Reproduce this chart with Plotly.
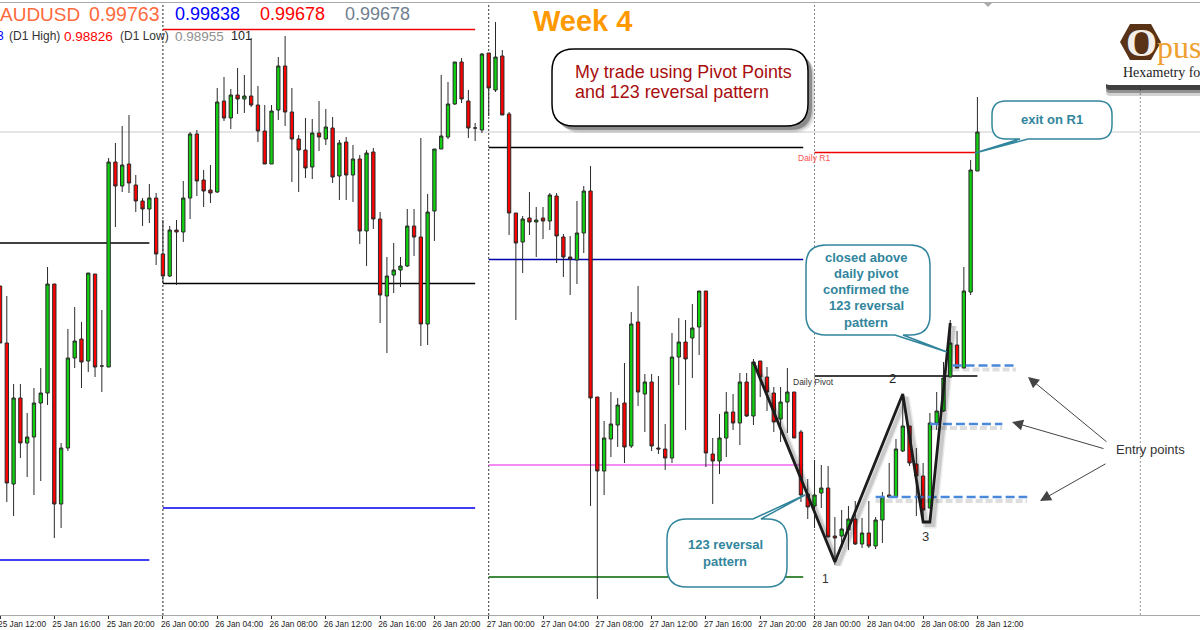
import plotly.graph_objects as go
import pandas as pd

# 30 minute bars, 25 Jan 12:00 -> 28 Jan 12:00, prices in points (1 point = 0.00001)
start_time = "2011-01-25 12:00"

opens = [
    99458, 99344, 99062, 99234, 99144, 99156, 99224, 99244, 99462, 99022, 99134, 99314,
    99352, 99308, 99482, 99298, 99296, 99706, 99658, 99702, 99660, 99628, 99612, 99634,
    99522, 99478, 99570, 99566, 99634, 99762, 99670, 99650, 99646, 99828, 99794, 99840,
    99832, 99838, 99820, 99768, 99702, 99810, 99898, 99806, 99752, 99730, 99696, 99764,
    99752, 99774, 99678, 99746, 99680, 99712, 99568, 99726, 99592, 99438, 99480, 99490,
    99498, 99578, 99556, 99382, 99608, 99732, 99756, 99822, 99906, 99828, 99774, 99770,
    99924, 99850, 99918, 99802, 99604, 99546, 99594, 99586, 99594, 99588, 99638, 99556,
    99516, 99510, 99564, 99648, 99236, 99088, 99152, 99180, 99224, 99138, 99386, 99242,
    99266, 99134, 99132, 99114, 99316, 99346, 99354, 99376, 99448, 99122, 99108, 99154,
    99206, 99184, 99266, 99198, 99308, 99276, 99244, 99192, 99226, 99246, 99166, 99042,
    99018, 99044, 99054, 98958, 98958, 98970, 98992, 98942, 98964, 98938, 98990, 99040,
    99036, 99128, 99178, 99102, 99078, 99014, 99184, 99208, 99276, 99340, 99294, 99446,
    99688,
]
highs = [
    99458, 99438, 99262, 99262, 99204, 99254, 99294, 99496, 99462, 99144, 99372, 99416,
    99386, 99484, 99482, 99410, 99714, 99744, 99778, 99800, 99680, 99634, 99662, 99644,
    99590, 99578, 99590, 99668, 99766, 99770, 99690, 99700, 99854, 99876, 99852, 99894,
    99880, 99954, 99858, 99820, 99820, 99916, 99958, 99854, 99760, 99794, 99792, 99828,
    99812, 99796, 99750, 99756, 99740, 99720, 99730, 99734, 99606, 99516, 99544, 99516,
    99612, 99612, 99754, 99642, 99732, 99880, 99866, 99906, 99914, 99850, 99784, 99924,
    99924, 99986, 99930, 99806, 99604, 99598, 99646, 99616, 99616, 99644, 99644, 99562,
    99558, 99628, 99658, 99698, 99236, 99188, 99246, 99234, 99304, 99406, 99458, 99282,
    99282, 99278, 99182, 99364, 99394, 99390, 99422, 99448, 99448, 99154, 99202, 99246,
    99242, 99284, 99284, 99312, 99308, 99296, 99256, 99256, 99294, 99246, 99170, 99072,
    99110, 99100, 99098, 98996, 99010, 99018, 99028, 98994, 99028, 98996, 99046, 99104,
    99152, 99242, 99178, 99134, 99104, 99204, 99246, 99306, 99390, 99368, 99496, 99710,
    99836,
]
lows = [
    99344, 99026, 98998, 99114, 99076, 99040, 99068, 99220, 98954, 98974, 99128, 99294,
    99254, 99286, 99276, 99246, 99296, 99576, 99646, 99644, 99606, 99578, 99584, 99500,
    99464, 99476, 99460, 99546, 99592, 99638, 99616, 99624, 99644, 99788, 99772, 99802,
    99804, 99816, 99746, 99702, 99702, 99790, 99778, 99666, 99646, 99674, 99672, 99728,
    99740, 99664, 99630, 99630, 99626, 99542, 99498, 99572, 99384, 99324, 99444, 99456,
    99496, 99518, 99338, 99340, 99548, 99732, 99752, 99820, 99824, 99754, 99748, 99764,
    99798, 99846, 99800, 99560, 99390, 99484, 99560, 99516, 99552, 99570, 99504, 99476,
    99440, 99462, 99524, 99018, 98832, 99040, 99116, 99136, 99104, 99134, 99218, 99166,
    99128, 99122, 99090, 99104, 99260, 99170, 99274, 99320, 99096, 99022, 99082, 99116,
    99170, 99140, 99196, 99180, 99236, 99208, 99166, 99146, 99164, 99154, 99026, 98992,
    98974, 99014, 98956, 98900, 98934, 98930, 98940, 98934, 98934, 98932, 98944, 99034,
    99034, 99126, 99098, 98998, 98986, 99014, 99170, 99206, 99276, 99294, 99294, 99440,
    99688,
]
closes = [
    99344, 99064, 99234, 99144, 99156, 99224, 99244, 99462, 99022, 99134, 99314, 99348,
    99306, 99484, 99296, 99298, 99706, 99658, 99700, 99664, 99628, 99612, 99634, 99522,
    99478, 99570, 99566, 99634, 99762, 99668, 99648, 99644, 99826, 99794, 99840, 99832,
    99838, 99820, 99768, 99702, 99808, 99898, 99806, 99752, 99730, 99694, 99764, 99756,
    99776, 99676, 99744, 99680, 99712, 99568, 99724, 99592, 99440, 99478, 99490, 99498,
    99578, 99556, 99382, 99606, 99732, 99758, 99822, 99906, 99832, 99774, 99774, 99922,
    99854, 99916, 99800, 99604, 99544, 99592, 99586, 99590, 99588, 99640, 99558, 99516,
    99512, 99564, 99648, 99234, 99088, 99154, 99182, 99220, 99136, 99382, 99246, 99266,
    99138, 99132, 99114, 99316, 99346, 99312, 99374, 99448, 99124, 99108, 99154, 99206,
    99184, 99266, 99198, 99306, 99276, 99246, 99186, 99226, 99246, 99154, 99040, 99016,
    99040, 99054, 98956, 98954, 98972, 98992, 98942, 98964, 98938, 98990, 99036, 99036,
    99132, 99178, 99104, 99078, 99010, 99184, 99208, 99274, 99344, 99294, 99448, 99690,
    99766,
]

# daily pivot levels: (from, to, price in points, colour)
levels = [
    ("2011-01-25 11:00", "2011-01-25 23:00", 99544, "#000000"),
    ("2011-01-25 11:00", "2011-01-25 23:00", 98910, "#0000ee"),
    ("2011-01-26 00:00", "2011-01-26 23:00", 99971, "#ee0000"),
    ("2011-01-26 00:00", "2011-01-26 23:00", 99463, "#000000"),
    ("2011-01-26 00:00", "2011-01-26 23:00", 99014, "#0000ee"),
    ("2011-01-27 00:00", "2011-01-27 23:10", 99735, "#000000"),
    ("2011-01-27 00:00", "2011-01-27 23:10", 99511, "#0000aa"),
    ("2011-01-27 00:00", "2011-01-27 23:10", 99100, "#ee66ee"),
    ("2011-01-27 00:00", "2011-01-27 23:10", 98876, "#006400"),
    ("2011-01-28 00:00", "2011-01-28 12:00", 99725, "#ee0000"),
    ("2011-01-28 00:00", "2011-01-28 12:00", 99278, "#000000"),
]
current_price = 99766

# 1-2-3 reversal zigzag
zigzag_times = ["2011-01-27 19:30", "2011-01-28 01:30", "2011-01-28 06:30",
                "2011-01-28 08:00", "2011-01-28 08:30", "2011-01-28 10:00"]
zigzag_prices = [99306, 98906, 99242, 98986, 98986, 99384]

# entry lines (from, to, price in points)
entries = [
    ("2011-01-28 04:30", "2011-01-28 15:40", 99036),
    ("2011-01-28 08:30", "2011-01-28 13:50", 99182),
    ("2011-01-28 10:10", "2011-01-28 14:50", 99299),
]

day_lines = [("2011-01-26 00:00", "#222222"), ("2011-01-27 00:00", "#333333"),
             ("2011-01-28 00:00", "#888888"), ("2011-01-29 00:00", "#999999")]

tick_times = list(pd.date_range("2011-01-25 12:00", "2011-01-28 12:00", freq="4h"))
tick_labels = [t.strftime("%d %b %H:%M") for t in tick_times]

WIDTH, HEIGHT = 1200, 630
TOP, BOTTOM = 3, 615


def pt(v):
    return v / 100000


def px(x):
    return x / WIDTH


def py(y):
    return 1 - (y - TOP) / (BOTTOM - TOP)


def box_path(x0, y0, x1, y1, r, tail=None):
    """圆角矩形路径, tail = (side, a, b, tipx, tipy)"""
    p = [f"M {px(x0 + r)} {py(y0)}"]
    if tail and tail[0] == "top":
        p += [f"L {px(tail[1])} {py(y0)}", f"L {px(tail[3])} {py(tail[4])}", f"L {px(tail[2])} {py(y0)}"]
    p += [f"L {px(x1 - r)} {py(y0)}", f"Q {px(x1)} {py(y0)} {px(x1)} {py(y0 + r)}",
          f"L {px(x1)} {py(y1 - r)}", f"Q {px(x1)} {py(y1)} {px(x1 - r)} {py(y1)}"]
    if tail and tail[0] == "bottom":
        p += [f"L {px(tail[2])} {py(y1)}", f"L {px(tail[3])} {py(tail[4])}", f"L {px(tail[1])} {py(y1)}"]
    p += [f"L {px(x0 + r)} {py(y1)}", f"Q {px(x0)} {py(y1)} {px(x0)} {py(y1 - r)}",
          f"L {px(x0)} {py(y0 + r)}", f"Q {px(x0)} {py(y0)} {px(x0 + r)} {py(y0)}", "Z"]
    return " ".join(p)


times = pd.date_range(start_time, periods=len(opens), freq="30min")

fig = go.Figure()

# 蜡烛图
fig.add_trace(go.Candlestick(
    x=times, open=[pt(v) for v in opens], high=[pt(v) for v in highs],
    low=[pt(v) for v in lows], close=[pt(v) for v in closes],
    increasing=dict(fillcolor="#10d010", line=dict(color="#2a2a2a", width=1)),
    decreasing=dict(fillcolor="#ff0000", line=dict(color="#2a2a2a", width=1)),
    whiskerwidth=0, showlegend=False,
))

# 入场线 (shadow first)
for t0, t1, price in entries:
    fig.add_trace(go.Scatter(x=[t0, t1], y=[pt(price - 8)] * 2, mode="lines",
                             line=dict(color="rgba(0,0,0,0.13)", width=4, dash="7px,3px"), showlegend=False))
    fig.add_trace(go.Scatter(x=[t0, t1], y=[pt(price)] * 2, mode="lines",
                             line=dict(color="#4a88dc", width=2.5, dash="9px,4px"), showlegend=False))

# zigzag with a soft shadow
shadow_times = [pd.Timestamp(t) + pd.Timedelta(minutes=15) for t in zigzag_times]
shadow_prices = [pt(v - 6) for v in zigzag_prices]
for w, a in [(7, 0.08), (4, 0.14)]:
    fig.add_trace(go.Scatter(x=shadow_times, y=shadow_prices, mode="lines",
                             line=dict(color=f"rgba(0,0,0,{a})", width=w), showlegend=False))
fig.add_trace(go.Scatter(x=zigzag_times, y=[pt(v) for v in zigzag_prices], mode="lines",
                         line=dict(color="#1c1c1c", width=2.8), showlegend=False))

shapes = []
# 当前价格线和日线分隔
shapes.append(dict(type="line", xref="paper", x0=0, x1=1, yref="y", y0=pt(current_price), y1=pt(current_price),
                   line=dict(color="#dddddd", width=1.5), layer="below"))
for t, color in day_lines:
    shapes.append(dict(type="line", xref="x", x0=t, x1=t, yref="paper", y0=0, y1=1,
                       line=dict(color=color, width=1, dash="2px,2px"), layer="below"))
for t0, t1, price, color in levels:
    shapes.append(dict(type="line", xref="x", x0=t0, x1=t1, yref="y", y0=pt(price), y1=pt(price),
                       line=dict(color=color, width=1.5), layer="below"))

# 文字框
for off, a in [(7, 0.08), (5.5, 0.14), (4, 0.3)]:
    shapes.append(dict(type="path", xref="paper", yref="paper",
                       path=box_path(552 + off, 49 + off, 808 + off, 126 + off, 22),
                       fillcolor=f"rgba(0,0,0,{a})", line=dict(width=0)))
shapes.append(dict(type="path", xref="paper", yref="paper", path=box_path(552, 49, 808, 126, 22),
                   fillcolor="#ffffff", line=dict(color="#000000", width=1.5)))
TEAL = "#31859c"
shapes.append(dict(type="path", xref="paper", yref="paper",
                   path=box_path(992, 101, 1112, 139, 14, ("bottom", 1020, 1028, 975, 153)),
                   fillcolor="#ffffff", line=dict(color=TEAL, width=1.5)))
shapes.append(dict(type="path", xref="paper", yref="paper",
                   path=box_path(806, 245, 930, 335, 20, ("bottom", 895, 903, 947, 352)),
                   fillcolor="#ffffff", line=dict(color=TEAL, width=1.5)))
shapes.append(dict(type="path", xref="paper", yref="paper",
                   path=box_path(667, 519, 787, 587, 20, ("top", 753, 761, 805, 495)),
                   fillcolor="#ffffff", line=dict(color=TEAL, width=1.5)))

# logo card
for bottom, a in [(96, 0.2), (93, 0.35), (90, 0.7)]:
    shapes.append(dict(type="path", xref="paper", yref="paper", path=box_path(1106, 80, 1215, bottom, 4),
                       fillcolor=f"rgba(30,30,30,{a})", line=dict(width=0)))
shapes.append(dict(type="path", xref="paper", yref="paper", path=box_path(1104, 5, 1215, 85, 6),
                   fillcolor="#ffffff", line=dict(width=0)))
hexagon = [(1120, 42), (1130, 24), (1151, 24), (1161, 42), (1151, 60), (1130, 60)]
shapes.append(dict(type="path", xref="paper", yref="paper",
                   path="M " + " L ".join(f"{px(x)} {py(y)}" for x, y in hexagon) + " Z",
                   fillcolor="#5a3216", line=dict(width=0)))
# small marker at the top of the chart
shapes.append(dict(type="path", xref="paper", yref="paper",
                   path=f"M {px(984)} {py(3)} L {px(992)} {py(3)} L {px(988)} {py(7)} Z",
                   fillcolor="#aaaaaa", line=dict(width=0)))

annotations = []


def note(x, y, text, size, color, anchor="left", bold=False, family="Liberation Sans"):
    annotations.append(dict(
        x=px(x - 2 if anchor == "left" else x), y=py(y), xref="paper", yref="paper",
        xanchor=anchor, yanchor="middle",
        text=f"<b>{text}</b>" if bold else text, showarrow=False,
        font=dict(family=family, size=size, color=color),
    ))


def arrow(tipx, tipy, tailx, taily):
    annotations.append(dict(
        x=px(tipx), y=py(tipy), xref="paper", yref="paper", text="", showarrow=True,
        ax=tailx - tipx, ay=taily - tipy, arrowhead=2, arrowsize=2.2, arrowwidth=1,
        arrowcolor="#444444", standoff=0,
    ))


# 顶部报价
note(0, 14, "AUDUSD", 19, "#ff6a3c")
note(89, 14, "0.99763", 19.5, "#ff6a3c")
note(175, 14, "0.99838", 18, "#0000ff")
note(260, 14, "0.99678", 18, "#ff0000")
note(345, 14, "0.99678", 18, "#708090")
note(-3, 36, "3", 12, "#0000ff")
note(9, 36, "(D1 High)", 12, "#333333")
note(64, 36, "0.98826", 13.5, "#ff0000")
note(120, 36, "(D1 Low)", 12, "#333333")
note(175, 36, "0.98955", 13.5, "#909090")
note(231, 36, "101", 12.5, "#222222")

note(533, 21, "Week 4", 29, "#ff9900", bold=True)
note(575, 72, "My trade using Pivot Points", 17.9, "#a80c0c")
note(575, 92, "and 123 reversal pattern", 17.9, "#a80c0c")

note(1052, 120, "exit on R1", 13, TEAL, "center", True)
for y, line in zip([257, 273, 289, 305, 322],
                   ["closed above", "daily pivot", "confirmed the", "123 reversal", "pattern"]):
    note(866, y, line, 13, TEAL, "center", True)
note(725, 544, "123 reversal", 13, TEAL, "center", True)
note(725, 561, "pattern", 13, TEAL, "center", True)

note(798, 158, "Daily R1", 8.5, "#ff5050")
note(793, 382, "Daily Pivot", 8.5, "#333333")
note(825, 579, "1", 12, "#333333", "center")
note(892, 378, "2", 13, "#222222", "center")
note(925, 536, "3", 13, "#333333", "center")
note(1116, 449, "Entry points", 13, "#333333")

arrow(1028, 377, 1108, 443)
arrow(1012, 422, 1105, 449)
arrow(1040, 501, 1107, 463)

# logo text
note(1141, 42, "O", 40, "#f4efe8", "center", True, "Liberation Serif")
note(1157, 47, "pus", 32, "#f0a030", family="Liberation Serif")
note(1123, 72, "Hexametry for", 14, "#222222", family="Liberation Serif")

x_left = pd.Timestamp(start_time) - pd.Timedelta(minutes=0.1)
x_right = x_left + pd.Timedelta(hours=WIDTH / 54.3 * 4)

fig.update_layout(
    width=WIDTH, height=HEIGHT,
    margin=dict(l=0, r=0, t=TOP, b=HEIGHT - BOTTOM, pad=0),
    paper_bgcolor="#ffffff", plot_bgcolor="#ffffff",
    showlegend=False, shapes=shapes, annotations=annotations,
    xaxis=dict(
        range=[x_left, x_right], rangeslider_visible=False, showgrid=False, zeroline=False,
        tickmode="array", tickvals=tick_times, ticktext=tick_labels,
        ticks="outside", ticklen=3, tickcolor="#333333", tickwidth=1, automargin=False,
        ticklabelshift=22, ticklabelstandoff=-2, ticklabeloverflow="allow",
        showline=True, linecolor="#aaaaaa", linewidth=1, mirror=True,
        tickfont=dict(family="Liberation Sans", size=8.3, color="#222222"),
    ),
    yaxis=dict(range=[pt(98800), pt(100024)], visible=False),
)

fig.write_html("out.html", config=dict(displayModeBar=False),
               post_script="document.body.style.margin='0';")
